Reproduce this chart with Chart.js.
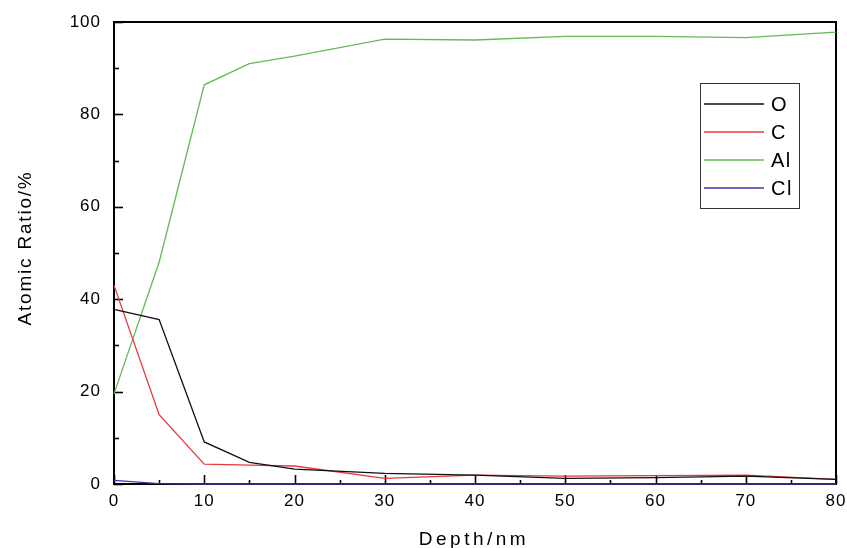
<!DOCTYPE html>
<html>
<head>
<meta charset="utf-8">
<script src="https://cdn.jsdelivr.net/npm/chart.js@4"></script>
<style>
  html, body { margin: 0; padding: 0; background: #fff; }
  #wrap { width: 847px; height: 548px; position: relative; }
</style>
</head>
<body>
<div id="wrap"><canvas id="c"></canvas></div>
<script>
// ---- data ----
const depth = [0, 5, 10, 15, 20, 30, 40, 50, 60, 70, 80];
const seriesO  = [37.8, 35.6, 9.1, 4.7, 3.2, 2.3, 1.9, 1.2, 1.4, 1.7, 1.0];
const seriesC  = [43.0, 15.0, 4.3, 4.1, 3.9, 1.2, 1.9, 1.7, 1.8, 1.9, 1.0];
const seriesAl = [19.5, 48.0, 86.4, 91.0, 92.6, 96.3, 96.1, 96.9, 96.9, 96.6, 97.8];
const seriesCl = [0.8, 0.1, 0, 0, 0, 0, 0, 0, 0, 0, 0];
const seriesNames = ['O', 'C', 'Al', 'Cl'];
const xTicks = [0, 10, 20, 30, 40, 50, 60, 70, 80];
const yTicks = [0, 20, 40, 60, 80, 100];
const xTitle = 'Depth/nm';
const yTitle = 'Atomic Ratio/%';

const FONT = "'Liberation Sans', Arial, sans-serif";
const colors = ['#111111', '#e8383a', '#62bb52', '#3a3aa8'];
const allSeries = [seriesO, seriesC, seriesAl, seriesCl];

const datasets = allSeries.map((s, i) => ({
  label: seriesNames[i],
  data: depth.map((d, j) => ({ x: d, y: s[j] })),
  borderColor: colors[i],
  backgroundColor: colors[i],
  borderWidth: 1.3,
  pointRadius: 0,
  tension: 0,
  clip: false
}));

const framePlugin = {
  id: 'frame',
  beforeDraw(chart) { chart.ctx.letterSpacing = '1px'; },
  beforeDatasetsDraw(chart) {
    const { ctx, chartArea: a, scales } = chart;
    ctx.save();
    ctx.strokeStyle = '#000';
    ctx.lineWidth = 2;
    ctx.strokeRect(a.left, a.top, a.right - a.left, a.bottom - a.top);
    // inward ticks
    ctx.lineWidth = 1.6;
    const y = scales.y, x = scales.x;
    for (let v = 0; v <= 100; v += 10) {
      const py = Math.round(y.getPixelForValue(v)) + 0.5;
      const len = (v % 20 === 0) ? 9 : 5;
      ctx.beginPath(); ctx.moveTo(a.left, py); ctx.lineTo(a.left + len, py); ctx.stroke();
    }
    for (let v = 0; v <= 80; v += 5) {
      const px = Math.round(x.getPixelForValue(v)) + 0.5;
      const len = (v % 10 === 0) ? 9 : 4;
      ctx.beginPath(); ctx.moveTo(px, a.bottom); ctx.lineTo(px, a.bottom - len); ctx.stroke();
    }
    ctx.restore();
  },
  afterDraw(chart) {
    const { ctx, chartArea: a } = chart;
    ctx.save();
    // axis titles
    ctx.fillStyle = '#000';
    ctx.font = '19px ' + FONT;
    ctx.textAlign = 'center';
    ctx.textBaseline = 'middle';
    ctx.letterSpacing = '3.5px';
    ctx.fillText(xTitle, (a.left + a.right) / 2 - 1, 540);
    ctx.save();
    ctx.translate(26, (a.top + a.bottom) / 2 - 5);
    ctx.rotate(-Math.PI / 2);
    ctx.letterSpacing = '1.8px';
    ctx.fillText(yTitle, 0, 0);
    ctx.restore();
    // legend
    const bx = 700, by = 83, bw = 99, bh = 125;
    ctx.strokeStyle = '#333';
    ctx.lineWidth = 1;
    ctx.strokeRect(bx + 0.5, by + 0.5, bw, bh);
    ctx.font = '20px ' + FONT;
    ctx.textAlign = 'left';
    ctx.letterSpacing = '1.5px';
    chart.data.datasets.forEach((ds, i) => {
      const ly = 104 + i * 28;
      ctx.strokeStyle = ds.borderColor;
      ctx.lineWidth = 1.3;
      ctx.beginPath(); ctx.moveTo(704, ly); ctx.lineTo(764, ly); ctx.stroke();
      ctx.fillStyle = '#000';
      ctx.fillText(ds.label, 771, ly + 1);
    });
    ctx.restore();
    ctx.letterSpacing = '0px';
  }
};

new Chart(document.getElementById('c'), {
  type: 'line',
  data: { datasets },
  options: {
    responsive: true,
    maintainAspectRatio: false,
    animation: false,
    layout: { padding: { left: 0, right: 11, top: 22, bottom: 0 } },
    plugins: { legend: { display: false }, tooltip: { enabled: false } },
    scales: {
      x: {
        type: 'linear',
        min: 0, max: 80,
        afterBuildTicks(scale) { scale.ticks = xTicks.map(v => ({ value: v })); },
        afterFit(scale) { scale.height = 64; scale.paddingLeft = 0; scale.paddingRight = 0; },
        grid: { display: false, drawTicks: false },
        border: { display: false },
        ticks: { color: '#000', font: { size: 17, family: FONT }, padding: 7, maxRotation: 0 }
      },
      y: {
        type: 'linear',
        min: 0, max: 100,
        afterBuildTicks(scale) { scale.ticks = yTicks.map(v => ({ value: v })); },
        afterFit(scale) { scale.width = 114; scale.paddingTop = 0; scale.paddingBottom = 0; },
        grid: { display: false, drawTicks: false },
        border: { display: false },
        ticks: { color: '#000', font: { size: 17, family: FONT }, padding: 13 }
      }
    }
  },
  plugins: [framePlugin]
});
</script>
</body>
</html>
